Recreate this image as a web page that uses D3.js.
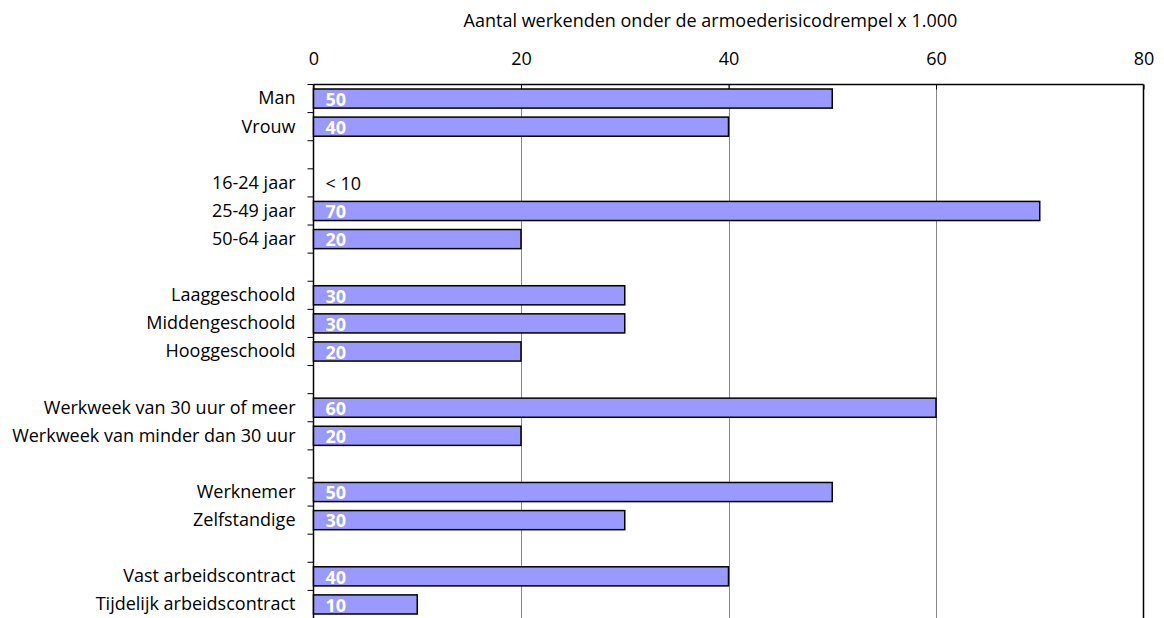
<!DOCTYPE html>
<html><head><meta charset="utf-8">
<script src="https://cdnjs.cloudflare.com/ajax/libs/d3/7.8.5/d3.min.js"></script>
<style>body{margin:0;background:#fff;}svg{display:block;font-family:"Open Sans",sans-serif;}</style>
</head><body>
<svg id="c" width="1164" height="618"></svg>
<script>
const categories = ["Man","Vrouw","","16-24 jaar","25-49 jaar","50-64 jaar","","Laaggeschoold","Middengeschoold","Hooggeschoold","","Werkweek van 30 uur of meer","Werkweek van minder dan 30 uur","","Werknemer","Zelfstandige","","Vast arbeidscontract","Tijdelijk arbeidscontract"];
const values = [50,40,null,null,70,20,null,30,30,20,null,60,20,null,50,30,null,40,10];
const valueLabels = ["50","40","","< 10","70","20","","30","30","20","","60","20","","50","30","","40","10"];
const tickValues = [0,20,40,60,80];
const axisTitle = "Aantal werkenden onder de armoederisicodrempel x 1.000";

const svg = d3.select("#c");
const L=313.5, R=1143.5, T=84.5, B=618.5;
const FS = 18;
const x = d3.scaleLinear().domain([0,80]).range([L,R]);
const y = d3.scaleBand().domain(d3.range(categories.length)).range([T,B]).paddingInner(0.32).paddingOuter(0.16);
const yb = d3.scaleBand().domain(d3.range(categories.length)).range([T,B]);

// gridlines
svg.append("g").selectAll("line").data(tickValues.filter(d=>d>0&&d<80)).join("line")
  .attr("x1",d=>Math.round(x(d))+0.5).attr("x2",d=>Math.round(x(d))+0.5).attr("y1",T).attr("y2",B)
  .attr("stroke","#868686").attr("stroke-width",1);

// top & right borders
svg.append("line").attr("x1",L).attr("x2",R).attr("y1",T).attr("y2",T).attr("stroke","#000").attr("stroke-width",1.5);
svg.append("line").attr("x1",R).attr("x2",R).attr("y1",T).attr("y2",B).attr("stroke","#000").attr("stroke-width",1.5);

// top axis
const xAxis = d3.axisTop(x).tickValues(tickValues).tickSize(-5).tickPadding(19.5).tickFormat(d3.format("d"));
const gx = svg.append("g").attr("transform",`translate(0,${T})`).call(xAxis);
gx.select(".domain").remove();
gx.selectAll(".tick line").attr("stroke","#000");
gx.selectAll("text").attr("font-size",FS).attr("fill","#000").attr("font-family","'Open Sans',sans-serif");

// left axis
svg.append("line").attr("x1",L).attr("x2",L).attr("y1",T).attr("y2",B).attr("stroke","#000").attr("stroke-width",1.5);
svg.append("g").selectAll("line").data(d3.range(categories.length+1)).join("line")
  .attr("x1",L-6).attr("x2",L).attr("y1",i=>T+i*yb.bandwidth()).attr("y2",i=>T+i*yb.bandwidth())
  .attr("stroke","#000");
svg.append("g").selectAll("text").data(categories).join("text")
  .attr("x",L-18).attr("y",(d,i)=>yb(i)+yb.bandwidth()/2).attr("dy","0.33em")
  .attr("text-anchor","end").attr("font-size",FS).attr("fill","#000").text(d=>d);

// bars
const rows = categories.map((c,i)=>({i,c,v:values[i],lab:valueLabels[i]}));
svg.append("g").selectAll("rect").data(rows.filter(d=>d.v!=null)).join("rect")
  .attr("x",x(0)).attr("y",d=>y(d.i)).attr("width",d=>x(d.v)-x(0)).attr("height",y.bandwidth())
  .attr("fill","#9999FF").attr("stroke","#000").attr("stroke-width",1.5);

// value labels
svg.append("g").selectAll("text").data(rows.filter(d=>d.lab!=="")).join("text")
  .attr("x",x(0)+12).attr("y",d=>yb(d.i)+yb.bandwidth()/2+1).attr("dy","0.35em")
  .attr("font-size",FS).attr("font-weight",d=>d.v==null?"normal":"bold")
  .attr("fill",d=>d.v==null?"#000":"#fff").text(d=>d.lab);

// axis title
svg.append("text").attr("x",(L+R)/2-18).attr("y",27).attr("text-anchor","middle").attr("font-size",FS).attr("fill","#000").text(axisTitle);
</script>
</body></html>
